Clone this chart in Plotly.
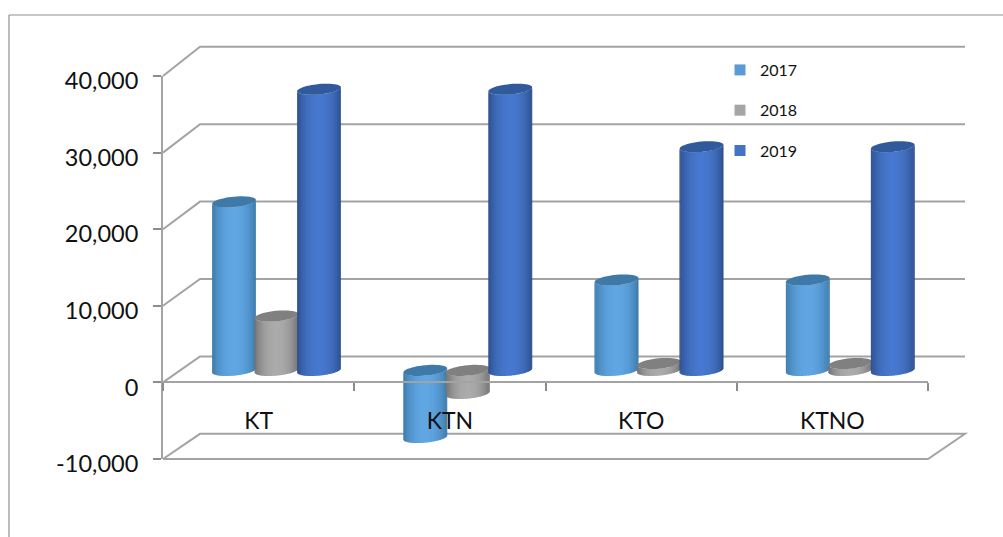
import math
import plotly.graph_objects as go

# ---- data ----
categories = ["KT", "KTN", "KTO", "KTNO"]
series_names = ["2017", "2018", "2019"]
values_2017 = [22000, -8750, 11800, 11800]
values_2018 = [7100, -3000, 900, 900]
values_2019 = [36700, 36700, 29200, 29200]
y_ticks = [-10000, 0, 10000, 20000, 30000, 40000]
y_tick_labels = ["-10,000", "0", "10,000", "20,000", "30,000", "40,000"]

series_values = [values_2017, values_2018, values_2019]
swatch = ["#5b9bd5", "#a5a5a5", "#4472c4"]
side_mid = ["#60a6e3", "#ababab", "#4778cf"]
side_edge = ["#3b78a6", "#6e6e6e", "#2b4d88"]
cap = ["#3f79a8", "#808080", "#305a9c"]
GRID = "#a3a3a3"

# ---- geometry (pixel scale derived from the axes below) ----
L, R, T, B = 163, 928, 76, 459
PX_X = 4 / (R - L)                 # x units per pixel
PX_Y = 50000 / (B - T)             # y units per pixel
HALF = 21.9 * PX_X
STEP = 42.5 * PX_X
FIRST = (234 - L) * PX_X
LIFT = 12 * PX_Y                   # bars stand mid-way in depth
MINOR = 5.2 * PX_Y
TILT = 2.0 * PX_Y
N = 26


def mix(a, b, f):
    pa = [int(a[i:i + 2], 16) for i in (1, 3, 5)]
    pb = [int(b[i:i + 2], 16) for i in (1, 3, 5)]
    return "#" + "".join(f"{round(x + (y - x) * f):02x}" for x, y in zip(pa, pb))


fig = go.Figure()


# ---- perspective frame, placed from the same axis scales ----
def back(y):
    return y * 1.0104 + 3393


def px(x):
    return x / 4


def py(y):
    return (y + 10000) / 50000


DX = 37 * PX_X
frame_shapes = []


def frame_line(pts):
    path = "M " + " L ".join(f"{px(a):.5f},{py(b):.5f}" for a, b in pts)
    frame_shapes.append(dict(type="path", xref="paper", yref="paper", path=path, layer="below",
                             line=dict(color=GRID, width=2)))


for t in y_ticks:
    if t == y_ticks[0]:
        frame_line([(0, t), (4, t), (4 + DX, back(t)), (DX, back(t)), (0, t)])
    else:
        frame_line([(0, t), (DX, back(t)), (4 + DX, back(t))])


# ---- cylinders ----
def cylinder(cx, v, s):
    top = max(v, 0) + LIFT
    bot = min(v, 0) + LIFT
    for i in range(N):
        a0 = math.pi * i / N
        a1 = math.pi * min(i + 1.6, N) / N   # each strip slides under the next one
        angles = [a0 + (a1 - a0) * k / 3 for k in range(4)]
        xs = [cx - HALF * math.cos(a) for a in angles]
        yt = [top - TILT * math.cos(a) - MINOR * math.sin(a) for a in angles]
        yb = [bot - TILT * math.cos(a) - MINOR * math.sin(a) for a in angles]
        mid = math.pi * (i + 0.5) / N
        f = abs(math.sin(mid)) ** 1.6
        col = mix(side_edge[s], side_mid[s], f)
        fig.add_trace(go.Scatter(x=xs + xs[::-1], y=yt + yb[::-1], mode="none",
                                 fill="toself", fillcolor=col, xaxis="x2", yaxis="y",
                                 showlegend=False, hoverinfo="skip"))
    angles = [2 * math.pi * k / 48 for k in range(49)]
    xs = [cx - HALF * math.cos(a) for a in angles]
    ys = [top - TILT * math.cos(a) + MINOR * math.sin(a) for a in angles]
    fig.add_trace(go.Scatter(x=xs, y=ys, mode="none", fill="toself", fillcolor=cap[s],
                             xaxis="x2", yaxis="y", showlegend=False, hoverinfo="skip"))


for c in range(len(categories)):
    for s, vals in enumerate(series_values):
        cylinder(FIRST + c + s * STEP, vals[c], s)

# ---- legend and category axis carrier ----
for s, name in enumerate(series_names):
    fig.add_trace(go.Scatter(x=categories, y=[None] * 4, mode="markers", name=name,
                             legendgroup=name, xaxis="x", yaxis="y",
                             marker=dict(symbol="square", size=11, color=swatch[s])))

frame_shapes += [
    dict(type="line", xref="paper", yref="paper", x0=(9 - L) / (R - L), x1=(1003 - L) / (R - L),
         y0=(B - 15) / (B - T), y1=(B - 15) / (B - T), line=dict(color="#8f8f8f", width=1.2)),
    dict(type="line", xref="paper", yref="paper", x0=(9 - L) / (R - L), x1=(9 - L) / (R - L),
         y0=(B - 15) / (B - T), y1=(B - 537) / (B - T), line=dict(color="#8f8f8f", width=1.2)),
]

fig.update_layout(
    width=1003, height=537,
    margin=dict(l=L, r=1003 - R, t=T, b=537 - B, autoexpand=False),
    paper_bgcolor="white", plot_bgcolor="rgba(0,0,0,0)",
    font=dict(family="Lato, Carlito, sans-serif", color="#111111"),
    hovermode=False,
    xaxis=dict(type="category", categoryorder="array", categoryarray=categories,
               range=[-0.5, 3.5], anchor="free", position=(B - 382) / (B - T),
               tickson="boundaries", ticks="outside", ticklen=8, tickwidth=2,
               tickcolor="#8c8c8c", showline=True, linecolor=GRID, linewidth=2,
               showgrid=False, zeroline=False, tickfont=dict(size=23),
               ticklabelstandoff=18, layer="above traces"),
    xaxis2=dict(overlaying="x", range=[0, 4], visible=False, anchor="y"),
    yaxis=dict(range=[-10000, 40000], tickvals=y_ticks, ticktext=y_tick_labels, ticks="outside",
               ticklen=8, tickwidth=2, tickcolor="#8c8c8c", showline=True, linecolor=GRID,
               linewidth=2, showgrid=False, zeroline=False, tickfont=dict(size=23.5),
               ticklabelstandoff=10, ticklabelshift=5),
    legend=dict(x=(720 - L) / (R - L), y=(B - 53) / (B - T), xanchor="left", yanchor="top",
                tracegroupgap=16.5, font=dict(size=16), bgcolor="rgba(0,0,0,0)",
                itemclick=False, itemdoubleclick=False),
    shapes=frame_shapes,
)

fig.write_html("out.html", config={"displayModeBar": False},
               post_script="document.body.style.margin='0';")
